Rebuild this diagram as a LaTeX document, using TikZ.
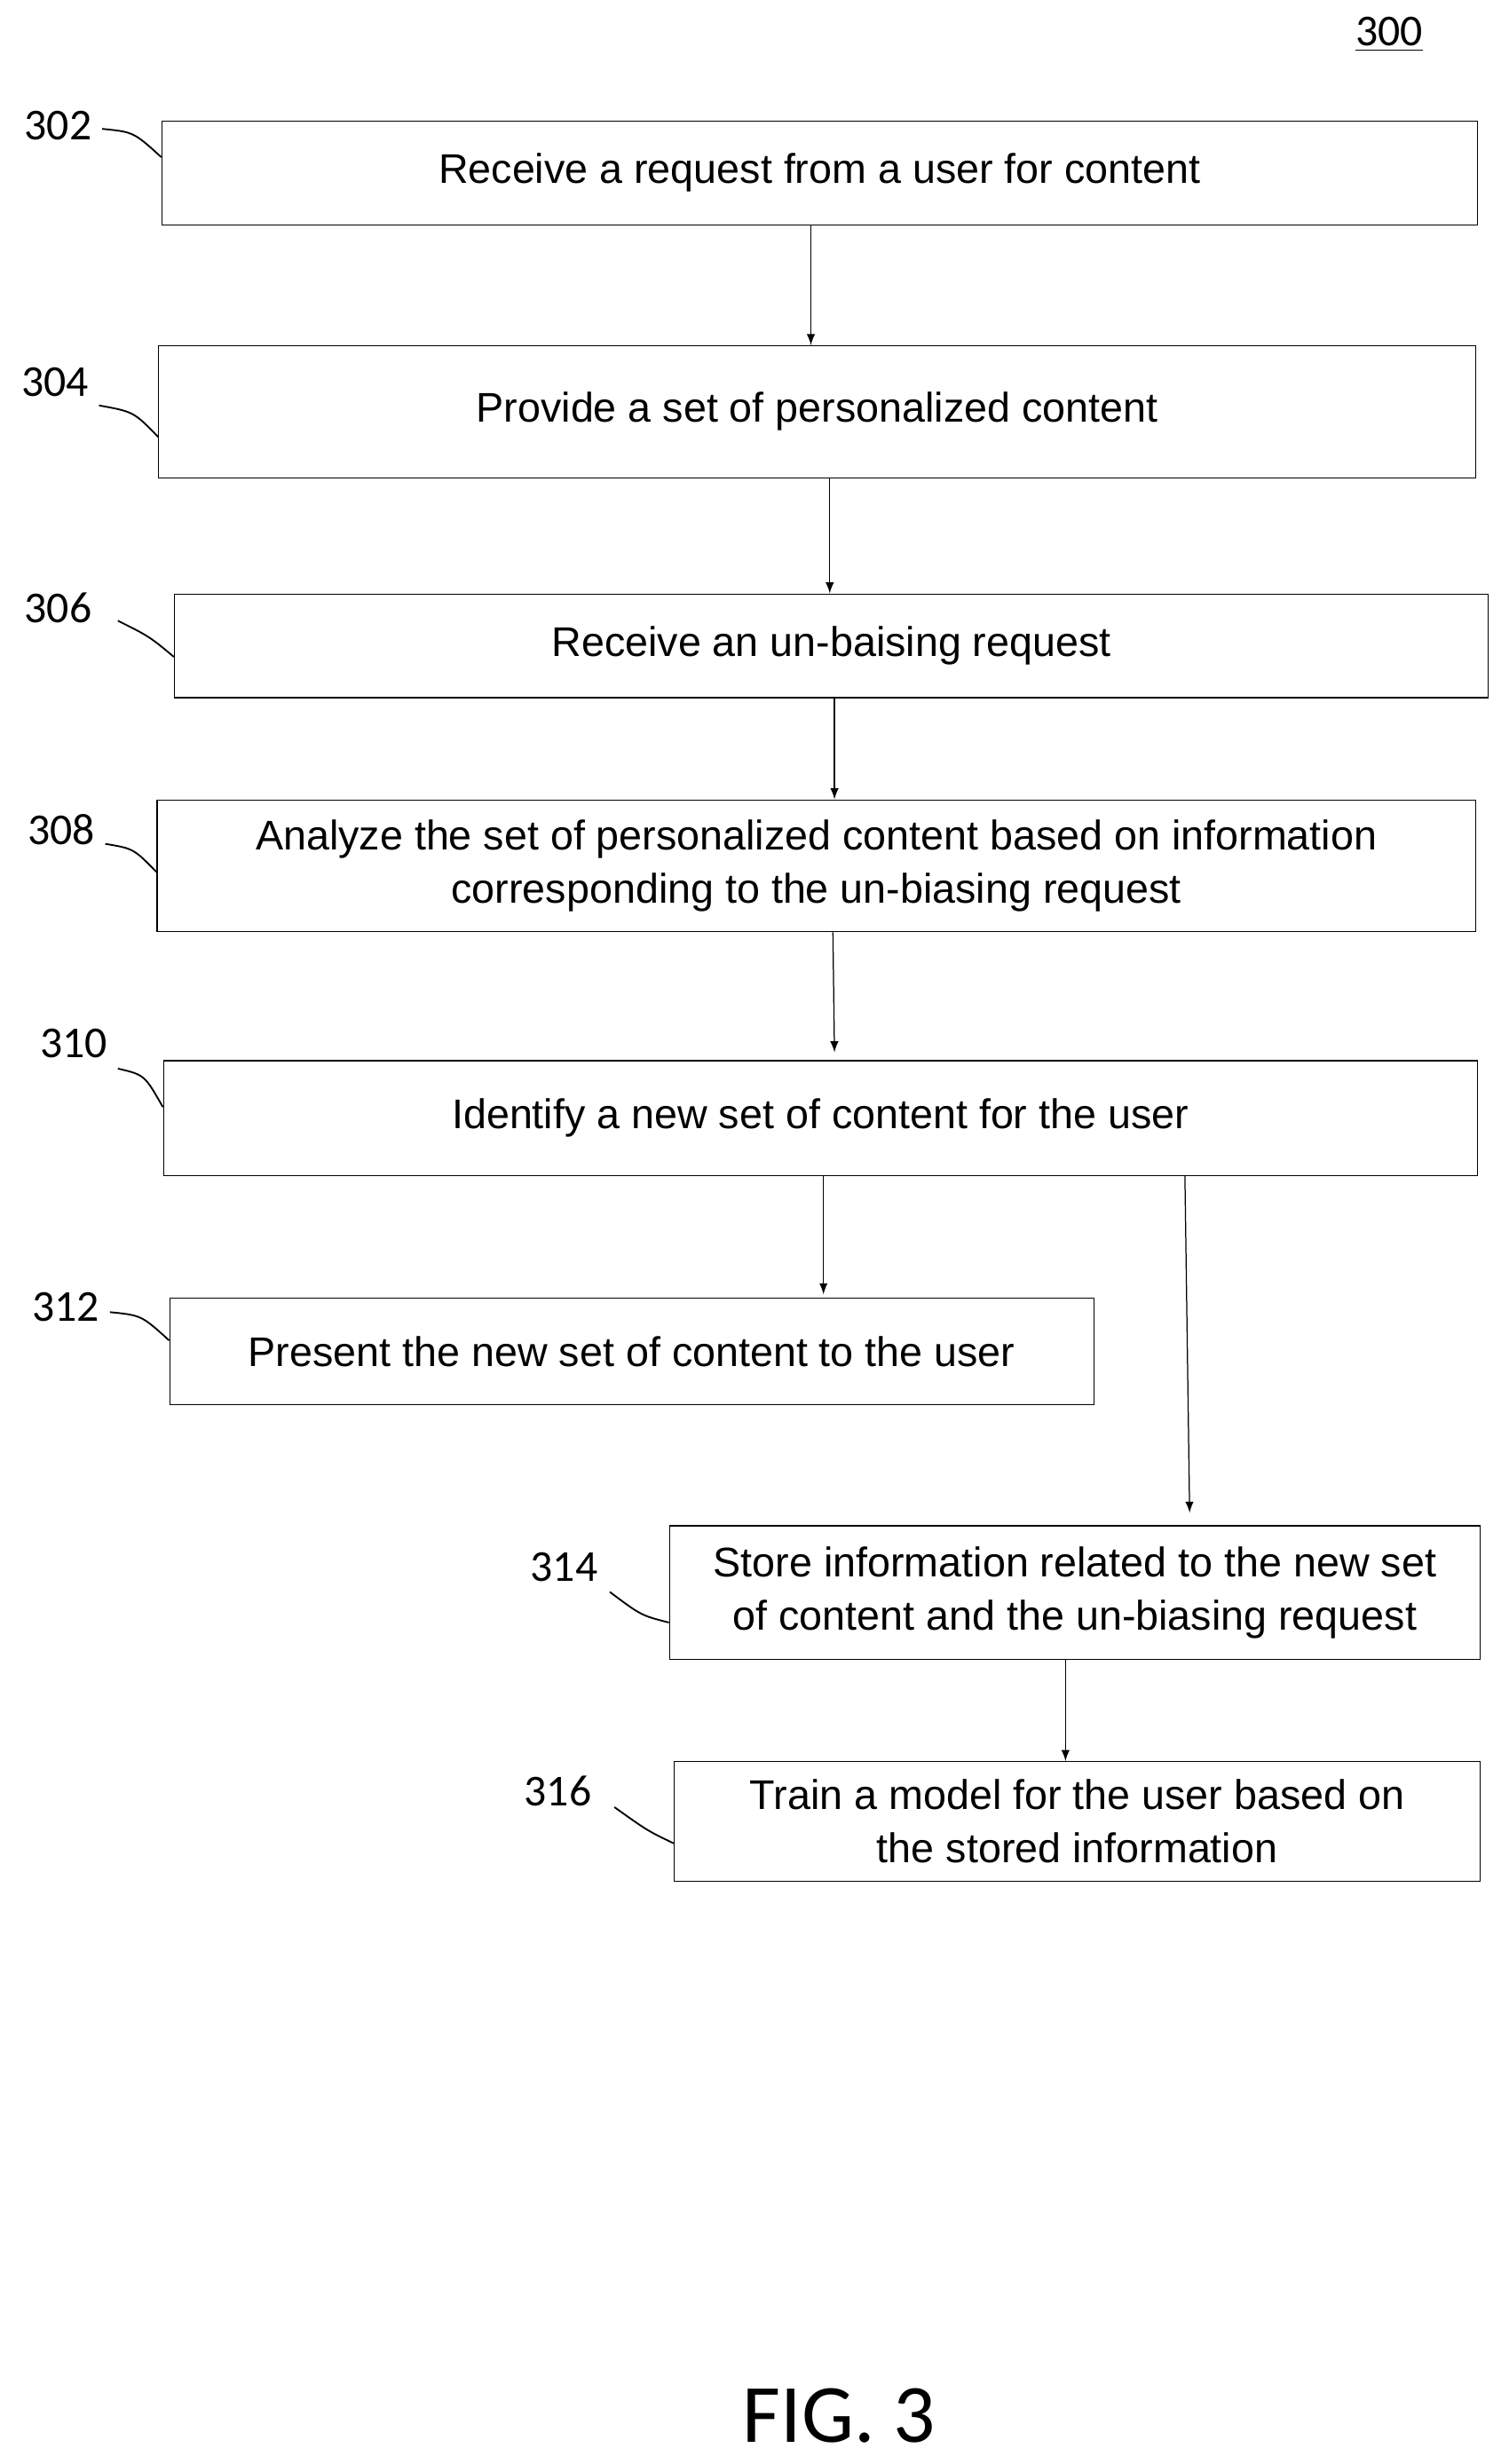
\documentclass[tikz,border=0pt]{standalone}
\usepackage{fontspec}
\setmainfont{Liberation Sans}
\newfontfamily\numfont{Carlito}
\usetikzlibrary{calc}
\tikzset{
  flowbox/.style={draw,thin,inner sep=2pt,align=center,font=\fontsize{15}{19.5}\selectfont},
  arr/.style={->,>=latex,thin},
  lbl/.style={font=\numfont\fontsize{16}{18}\selectfont},
  lead/.style={semithick}
}
\begin{document}
\begin{tikzpicture}[x=0.02cm,y=-0.02cm]
\useasboundingbox (0,0) rectangle (960,1568);
% boxes
\node[flowbox,minimum width=837*0.02cm,minimum height=66*0.02cm] (b302) at (521.5,110) {Receive a request from a user for content};
\node[flowbox,minimum width=838*0.02cm,minimum height=84*0.02cm] (b304) at (520,262) {Provide a set of personalized content};
\node[flowbox,minimum width=836*0.02cm,minimum height=66*0.02cm] (b306) at (529,411) {Receive an un-baising request};
\node[flowbox,minimum width=839*0.02cm,minimum height=84*0.02cm] (b308) at (519.5,551) {Analyze the set of personalized content based on information\\corresponding to the un-biasing request};
\node[flowbox,minimum width=836*0.02cm,minimum height=73*0.02cm] (b310) at (522,711.5) {Identify a new set of content for the user};
\node[flowbox,minimum width=588*0.02cm,minimum height=68*0.02cm] (b312) at (402,860) {Present the new set of content to the user};
\node[flowbox,minimum width=516*0.02cm,minimum height=85*0.02cm] (b314) at (684,1013.5) {Store information related to the new set\\of content and the un-biasing request};
\node[flowbox,minimum width=513*0.02cm,minimum height=76*0.02cm] (b316) at (685.5,1159) {Train a model for the user based on\\the stored information};
% arrows
\draw[arr] (b302.south -| 516,0) -- (b304.north -| 516,0);
\draw[arr] (b304.south -| 528,0) -- (b306.north -| 528,0);
\draw[arr] (b306.south -| 531,0) -- (b308.north -| 531,0);
\draw[arr] (b308.south -| 530,0) -- ($(b310.north -| 531,0)+(0,-5)$);
\draw[arr] (b310.south -| 524,0) -- ($(b312.north -| 524,0)+(0,-2)$);
\draw[arr] (b310.south -| 754,0) -- ($(b314.north -| 757,0)+(0,-8)$);
\draw[arr] (b314.south -| 678,0) -- (b316.north -| 678,0);
% reference numerals
\node[lbl] (l302) at (37,80) {302};
\node[lbl] (l304) at (35,243) {304};
\node[lbl] (l306) at (37,387) {306};
\node[lbl] (l308) at (39,528) {308};
\node[lbl] (l310) at (47,664) {310};
\node[lbl] (l312) at (42,832) {312};
\node[lbl] (l314) at (359,997) {314};
\node[lbl] (l316) at (355,1140) {316};
\draw[lead] (65,82) .. controls (85,84) .. ($(b302.west)+(0,-10)$);
\draw[lead] (63,258) .. controls (85,262) .. ($(b304.west)+(0,16)$);
\draw[lead] (75,395) .. controls (95,405) .. ($(b306.west)+(0,7)$);
\draw[lead] (67,537) .. controls (85,540) .. ($(b308.west)+(0,4)$);
\draw[lead] (75,680) .. controls (92,684) .. ($(b310.west)+(0,-7)$);
\draw[lead] (70,835) .. controls (90,837) .. ($(b312.west)+(0,-7)$);
\draw[lead] (388,1013) .. controls (408,1028) .. ($(b314.west)+(0,19)$);
\draw[lead] (391,1150) .. controls (412,1165) .. ($(b316.west)+(0,14)$);
\node[lbl] (fig) at (884,22) {\underline{300}};
\node[font=\numfont\fontsize{30}{34}\selectfont] (title) at (534,1537) {FIG. 3};
\end{tikzpicture}
\end{document}
